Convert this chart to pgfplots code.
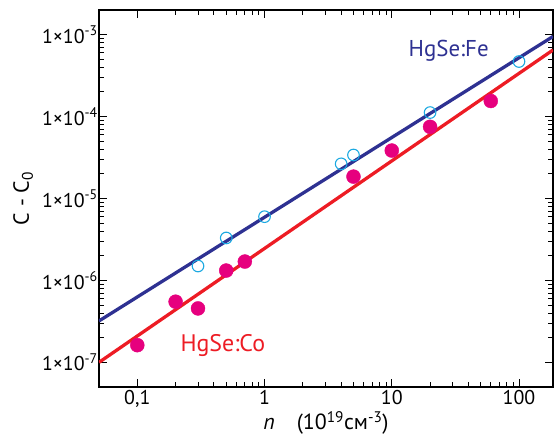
\documentclass[border=0pt]{standalone}
\usepackage{fontspec}
\setmainfont{PT Sans}
\usepackage{pgfplots}
\pgfplotsset{compat=1.18}
\definecolor{feline}{HTML}{2E3192}
\definecolor{coline}{HTML}{ED1C24}
\definecolor{femark}{HTML}{1CA9E1}
\definecolor{comark}{HTML}{E6007E}
\begin{document}
\begin{tikzpicture}[x=1bp,y=1bp]
\begin{axis}[
    name=ax,
    scale only axis,
    width=454bp, height=377bp,
    xmode=log, ymode=log,
    xmin=0.05, xmax=185,
    ymin=5e-8, ymax=2e-3,
    xtick={0.1,1,10,100},
    xticklabels={0{,}1,1,10,100},
    ytick={1e-7,1e-6,1e-5,1e-4,1e-3},
    yticklabels={1×10\textsuperscript{-7},1×10\textsuperscript{-6},1×10\textsuperscript{-5},1×10\textsuperscript{-4},1×10\textsuperscript{-3}},
    ticklabel style={font=\fontsize{20}{22}\selectfont},
    yticklabel style={inner sep=1bp},
    label style={font=\fontsize{22}{24}\selectfont},
    xlabel={\textit{n}\quad(10\textsuperscript{19}см\textsuperscript{-3})},
    ylabel={C - C\textsubscript{0}},
    xlabel style={at={(axis description cs:0.5,-0.095)}, anchor=center},
    ylabel style={at={(axis description cs:-0.167,0.5)}, anchor=center},
    axis line style={line width=1.2pt},
    major tick length=8bp, minor tick length=5bp,
    every tick/.style={black, line width=0.9pt},
]
% fitted lines
\addplot[feline, line width=3.3pt] coordinates {(0.05,3.2e-7) (185,9.5e-4)};
\addplot[coline, line width=3.3pt] coordinates {(0.05,1.0e-7) (185,6.5e-4)};
% HgSe:Fe data
\addplot[only marks, mark=o, mark size=5.8bp, femark, line width=1.1pt] coordinates {
    (0.3,1.5e-6) (0.5,3.3e-6) (1,6.0e-6) (4,2.65e-5) (5,3.4e-5) (20,1.12e-4) (100,4.7e-4)
};
% HgSe:Co data
\addplot[only marks, mark=*, mark size=7bp, comark, draw=comark] coordinates {
    (0.1,1.62e-7) (0.2,5.5e-7) (0.3,4.55e-7) (0.5,1.32e-6) (0.7,1.7e-6)
    (5,1.85e-5) (10,3.85e-5) (20,7.5e-5) (60,1.55e-4)
};
\node[feline, font=\fontsize{23}{26}\selectfont] at (axis cs:28,6.3e-4) {HgSe:Fe};
\node[coline, font=\fontsize{24}{26}\selectfont] at (axis cs:0.47,1.62e-7) {HgSe:Co};
\end{axis}
\pgfresetboundingbox
\path ([xshift=-99bp,yshift=-54bp]ax.south west) rectangle ([xshift=2bp,yshift=10bp]ax.north east);
\end{tikzpicture}
\end{document}
